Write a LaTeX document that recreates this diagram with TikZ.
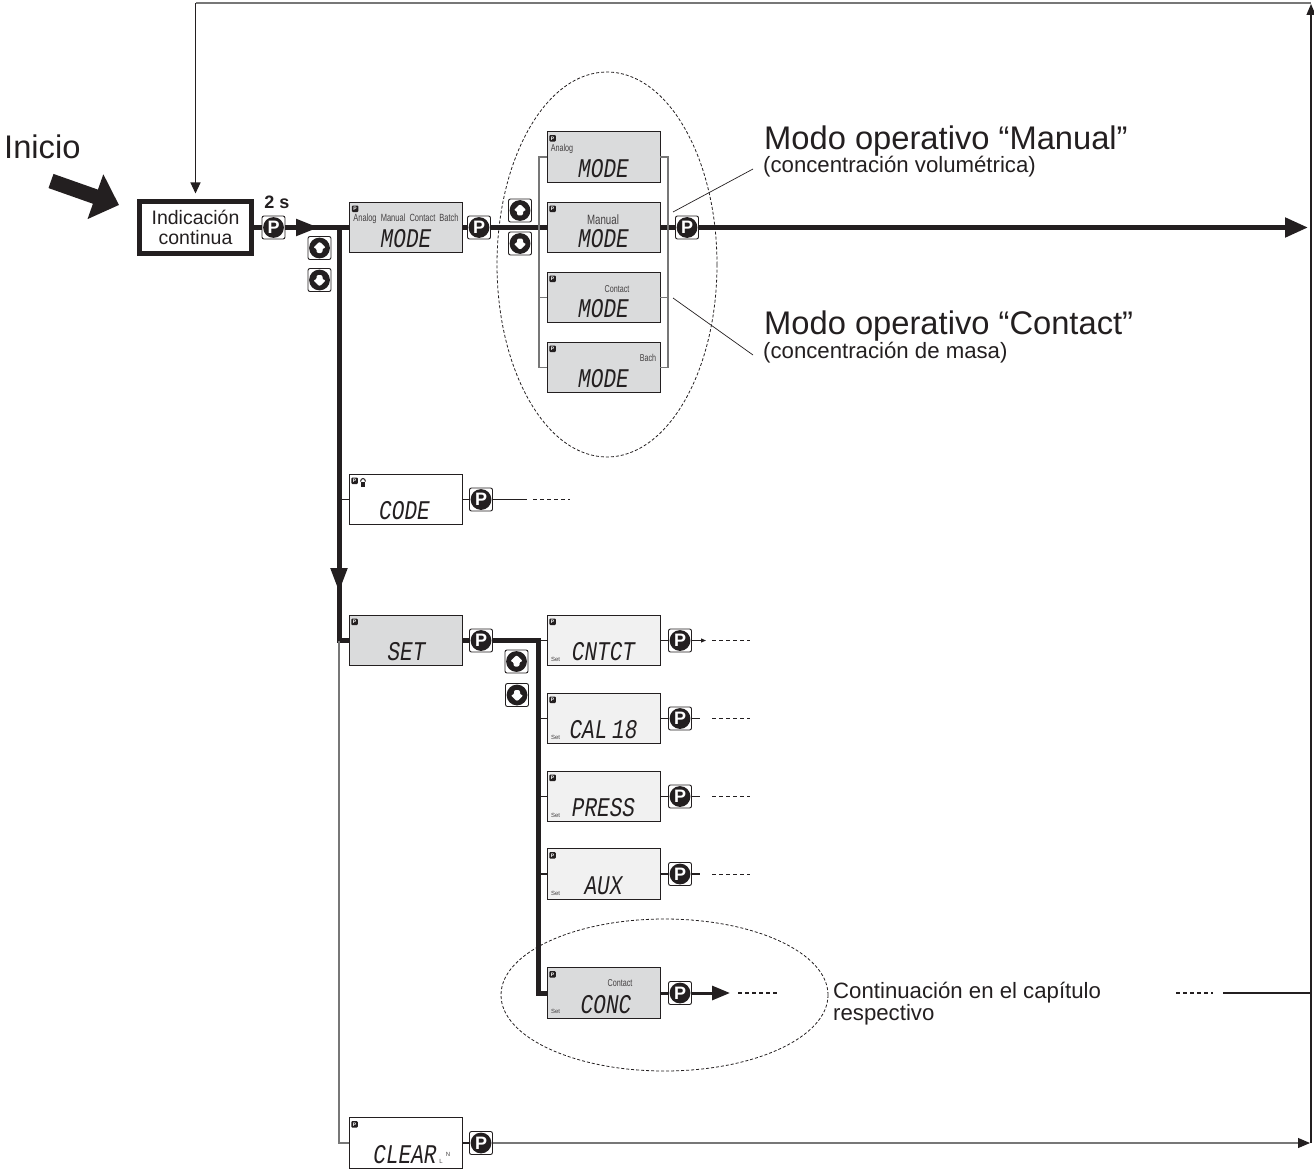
\documentclass[tikz,border=0pt]{standalone}
\usepackage{fontspec}
\usepackage{xcolor}
\setmainfont{Liberation Sans}
\newfontfamily\segfont[FakeStretch=0.78]{Liberation Mono}
\newfontfamily\tagfont[FakeStretch=0.72]{Liberation Sans}
\usetikzlibrary{shapes.geometric, arrows.meta, positioning}
\definecolor{lcdgrey}{HTML}{DADBDC}
\definecolor{lcdlight}{HTML}{F1F1F1}
\definecolor{wiregrey}{HTML}{777777}
\definecolor{inkblack}{HTML}{231F20}
\tikzset{
    lcd/.style 2 args={draw=inkblack, line width=0.9pt, minimum width=113pt, minimum height=50.5pt, inner sep=0pt,
        label={[segtext, xshift=#1pt, yshift=-11.5pt]center:#2},
        label={[pmark, anchor=center, xshift=6pt, yshift=-7pt]north west:P}},
    segtext/.style={font=\fontsize{27}{27}\segfont\itshape, text=inkblack, inner sep=0pt},
    pmark/.style={fill=inkblack, text=white, font=\fontsize{5}{5}\bfseries, rounded corners=1pt, minimum size=6.5pt, inner sep=0pt},
    tagtext/.style={font=\fontsize{10}{10}\tagfont, text=inkblack!85, inner sep=0pt},
    settext/.style={font=\fontsize{6}{6}\selectfont, text=inkblack!85, inner sep=0pt},
    pbtn/.style={draw=inkblack, line width=0.9pt, fill=white, rounded corners=2pt, minimum size=23pt, inner sep=0pt,
        text=white, font=\fontsize{18}{18}\bfseries,
        path picture={\fill[inkblack] (path picture bounding box.center) circle (10.4pt);}},
    upbtn/.style={draw=inkblack, line width=0.9pt, fill=white, rounded corners=2pt, minimum size=23pt, inner sep=0pt,
        path picture={\fill[inkblack] (path picture bounding box.center) circle (10.4pt);
            \fill[white, shift={(path picture bounding box.center)}] (0pt,6.5pt) -- (6.5pt,0pt) -- (3pt,0pt) -- (3pt,-5pt) -- (-3pt,-5pt) -- (-3pt,0pt) -- (-6.5pt,0pt) -- cycle;}},
    downbtn/.style={draw=inkblack, line width=0.9pt, fill=white, rounded corners=2pt, minimum size=23pt, inner sep=0pt,
        path picture={\fill[inkblack] (path picture bounding box.center) circle (10.4pt);
            \fill[white, shift={(path picture bounding box.center)}] (0pt,-6.5pt) -- (6.5pt,0pt) -- (3pt,0pt) -- (3pt,5pt) -- (-3pt,5pt) -- (-3pt,0pt) -- (-6.5pt,0pt) -- cycle;}},
    fatline/.style={draw=inkblack, line width=5pt},
    midline/.style={draw=inkblack, line width=3pt},
    thinline/.style={draw=inkblack, line width=1.1pt},
    greyline/.style={draw=wiregrey, line width=1.1pt},
    dashline/.style={draw=inkblack, line width=1pt, dash pattern=on 4pt off 3pt},
    ring/.style={draw=inkblack, ellipse, line width=0.8pt, dash pattern=on 3pt off 2pt, inner sep=0pt},
    bigtext/.style={font=\fontsize{32.7}{34}\selectfont, text=inkblack, inner sep=0pt, anchor=west},
    subtext/.style={font=\fontsize{22.2}{22}\selectfont, text=inkblack, inner sep=0pt, anchor=west, align=left}
}
\begin{document}
\begin{tikzpicture}[x=1pt, y=-1pt]
    \useasboundingbox (0,0) rectangle (1314,1169);

    % start
    \node (inicio) [bigtext] at (4,147) {Inicio};
    \node (indic) [draw=inkblack, line width=5pt, minimum width=112pt, minimum height=51pt, inner sep=0pt, align=center, text=inkblack, font=\fontsize{19.5}{20}\selectfont] at (195.5,227.5) {Indicación\\continua};
    \node (twosec) [font=\fontsize{18}{18}\bfseries, text=inkblack, inner sep=0pt] at (277,202) {2 s};
    \node (pStart) [pbtn] at (273.5,227.5) {P};
    \node (upA) [upbtn] at (319.5,248) {};
    \node (downA) [downbtn] at (319.5,280) {};

    % mode row
    \node (mode) [lcd={0}{MODE}, fill=lcdgrey] at (406,227.5) {};
    \node (tagAll) [tagtext, font=\fontsize{10.4}{10}\tagfont] at (406,219) {Analog\ \ Manual\ \ Contact\ \ Batch};
    \node (pMode) [pbtn] at (479,227.5) {P};
    \node (upB) [upbtn] at (520,210.5) {};
    \node (downB) [downbtn] at (520,243.5) {};
    \node (ringMode) [ring, minimum width=220pt, minimum height=385pt] at (607,264.5) {};

    \node (modeAnalog) [lcd={0}{MODE}, fill=lcdgrey] at (603.5,157) {};
    \node (tagAnalog) [tagtext] at (562,149) {Analog};
    \node (modeManual) [lcd={0}{MODE}, fill=lcdgrey] at (603.5,227.5) {};
    \node (tagManual) [tagtext, font=\fontsize{13.5}{13}\tagfont] at (603,220) {Manual};
    \node (modeContact) [lcd={0}{MODE}, fill=lcdgrey] at (603.5,297.5) {};
    \node (tagContact) [tagtext] at (617,289) {Contact};
    \node (modeBach) [lcd={0}{MODE}, fill=lcdgrey] at (603.5,367.5) {};
    \node (tagBach) [tagtext] at (648,358) {Bach};
    \node (pManual) [pbtn] at (687,227.5) {P};

    \node (txtManual) [bigtext] at (764,141) {Modo operativo “Manual”};
    \node (subManual) [subtext] at (763,167) {(concentración volumétrica)};
    \node (txtContact) [bigtext] at (764,326) {Modo operativo “Contact”};
    \node (subContact) [subtext] at (763,352.5) {(concentración de masa)};

    % code and set
    \node (code) [lcd={-1}{CODE}, fill=white] at (405.5,499.5) {};
    \node (lock) [fill=inkblack, minimum width=4.5pt, minimum height=5.5pt, inner sep=0pt] at (363,484.5) {};
    \node (pCode) [pbtn] at (481,499.5) {P};
    \node (set) [lcd={1}{SET}, fill=lcdgrey] at (405.5,640.5) {};
    \node (pSet) [pbtn] at (481,640.5) {P};
    \node (upC) [upbtn] at (516.5,661.5) {};
    \node (downC) [downbtn] at (517,695) {};

    \node (cntct) [lcd={0}{CNTCT}, fill=lcdlight] at (603.5,640.5) {};
    \node (setA) [settext] at (555.5,659) {Set};
    \node (pCntct) [pbtn] at (680,640.5) {P};
    \node (calib) [lcd={0}{CAL\hspace{-8pt} 18}, fill=lcdlight] at (603.5,718.5) {};
    \node (setB) [settext] at (555.5,737) {Set};
    \node (pCalib) [pbtn] at (680,718.5) {P};
    \node (press) [lcd={0}{PRESS}, fill=lcdlight] at (603.5,796.5) {};
    \node (setC) [settext] at (555.5,815) {Set};
    \node (pPress) [pbtn] at (680,796.5) {P};
    \node (aux) [lcd={0}{AUX}, fill=lcdlight] at (603.5,874) {};
    \node (setD) [settext] at (555.5,893) {Set};
    \node (pAux) [pbtn] at (680,874) {P};
    \node (conc) [lcd={2.5}{CONC}, fill=lcdgrey] at (603.5,993) {};
    \node (setE) [settext] at (555.5,1011) {Set};
    \node (tagConc) [tagtext] at (620,983) {Contact};
    \node (pConc) [pbtn] at (680,993) {P};
    \node (ringConc) [ring, minimum width=327pt, minimum height=152pt] at (664.5,995) {};
    \node (txtCont) [subtext] at (833,1004) {Continuación en el capítulo\\respectivo};

    \node (clear) [lcd={-0.5}{CLEAR}, fill=white] at (405.5,1143) {};
    \node (tagN) [settext] at (448,1154) {N};
    \node (tagL) [settext] at (441,1161) {L};
    \node (pClear) [pbtn] at (481,1143) {P};

    % corners and free ends
    \coordinate (topL) at (195.5,3);
    \coordinate (topR) at (1311,3);
    \coordinate (endTop) at (1311,4);
    \coordinate (botR) at (1311,1143);
    \coordinate (endBot) at (1310,1143);
    \coordinate (endMain) at (1308,227.5);
    \coordinate (jMain) at (339,227.5);
    \coordinate (tipStart) at (319,227.5);
    \coordinate (tipDown) at (339,592);
    \coordinate (jSet) at (339,640.5);
    \coordinate (jClear) at (339,1143);
    \coordinate (jCode) at (339,499.5);
    \coordinate (inL) at (539,227.5);
    \coordinate (inTop) at (539,157);
    \coordinate (inBot) at (539,367.5);
    \coordinate (inC) at (539,297.5);
    \coordinate (outR) at (668,227.5);
    \coordinate (outTop) at (668,157);
    \coordinate (outBot) at (668,367.5);
    \coordinate (outC) at (668,297.5);
    \coordinate (leadA) at (673,212);
    \coordinate (leadB) at (753,169);
    \coordinate (leadC) at (673,298);
    \coordinate (leadD) at (753,355);

    % thick path
    \draw [fatline] (indic) -- (pStart);
    \draw [fatline] (pStart) -- (jMain) -- (mode);
    \draw [fatline, -{Triangle[length=23pt, width=16pt]}] (pStart) -- (tipStart);
    \draw [fatline] (mode) -- (pMode);
    \draw [fatline] (pMode) -- (modeManual);
    \draw [fatline] (modeManual) -- (pManual);
    \draw [fatline, -{Triangle[length=23pt, width=19pt]}] (pManual) -- (endMain);
    \draw [fatline] (jMain) -- (jSet) -- (set);
    \draw [fatline, -{Triangle[length=24pt, width=16pt]}] (jMain) -- (tipDown);

    % top loop
    \draw [greyline] (topR) -- (topL);
    \draw [thinline, shorten >=6pt, -{Triangle[length=11pt, width=10pt]}] (topL) -- (indic);
    \draw [thinline, -{Triangle[length=11pt, width=9pt]}] (botR) -- (endTop);

    % mode choices
    \draw [greyline] (modeAnalog) -- (inTop) -- (inBot) -- (modeBach);
    \draw [greyline] (modeAnalog) -- (outTop) -- (outBot) -- (modeBach);
    \draw [greyline] (inC) -- (modeContact);
    \draw [greyline] (outC) -- (modeContact);
    \draw [thinline, line width=0.7pt] (leadA) -- (leadB);
    \draw [thinline, line width=0.7pt] (leadC) -- (leadD);

    % code row
    \draw [thinline] (jCode) -- (code);
    \draw [thinline] (code) -- (pCode);
    \coordinate (codeEnd) at (527,499.5);
    \coordinate (codeDashA) at (533,499.5);
    \coordinate (codeDashB) at (570,499.5);
    \draw [thinline] (pCode) -- (codeEnd);
    \draw [dashline] (codeDashA) -- (codeDashB);

    % set rows
    \coordinate (jRowA) at (538,640.5);
    \coordinate (jRowB) at (538,718.5);
    \coordinate (jRowC) at (538,796.5);
    \coordinate (jRowD) at (538,874);
    \coordinate (jRowE) at (538,993);
    \draw [fatline] (set) -- (pSet);
    \draw [fatline] (pSet) -- (jRowA) -- (jRowE) -- (conc);
    \draw [thinline] (jRowA) -- (cntct);
    \draw [thinline] (jRowB) -- (calib);
    \draw [thinline] (jRowC) -- (press);
    \draw [thinline] (jRowD) -- (aux);
    \draw [thinline] (cntct) -- (pCntct);
    \draw [thinline] (calib) -- (pCalib);
    \draw [thinline] (press) -- (pPress);
    \draw [thinline] (aux) -- (pAux);

    \coordinate (endA) at (706,640.5);
    \coordinate (endB) at (700,718.5);
    \coordinate (endC) at (700,796.5);
    \coordinate (endD) at (700,874);
    \coordinate (dashA1) at (712,640.5);
    \coordinate (dashA2) at (750,640.5);
    \coordinate (dashB1) at (712,718.5);
    \coordinate (dashB2) at (750,718.5);
    \coordinate (dashC1) at (712,796.5);
    \coordinate (dashC2) at (750,796.5);
    \coordinate (dashD1) at (712,874);
    \coordinate (dashD2) at (750,874);
    \draw [thinline, -{Triangle[length=5pt, width=4pt]}] (pCntct) -- (endA);
    \draw [thinline] (pCalib) -- (endB);
    \draw [thinline] (pPress) -- (endC);
    \draw [thinline] (pAux) -- (endD);
    \draw [dashline, line width=0.8pt] (dashA1) -- (dashA2);
    \draw [dashline, line width=0.8pt] (dashB1) -- (dashB2);
    \draw [dashline, line width=0.8pt] (dashC1) -- (dashC2);
    \draw [dashline, line width=0.8pt] (dashD1) -- (dashD2);

    % conc row
    \coordinate (endConc) at (730,993);
    \coordinate (dashE1) at (738,993);
    \coordinate (dashE2) at (777,993);
    \coordinate (dashF1) at (1176,993);
    \coordinate (dashF2) at (1213,993);
    \coordinate (lineF1) at (1223,993);
    \coordinate (lineF2) at (1311,993);
    \draw [midline] (conc) -- (pConc);
    \draw [midline, -{Triangle[length=18pt, width=14pt]}] (pConc) -- (endConc);
    \draw [dashline, line width=1.5pt] (dashE1) -- (dashE2);
    \draw [dashline, line width=1.5pt] (dashF1) -- (dashF2);
    \draw [thinline, line width=1.3pt] (lineF1) -- (lineF2);

    % clear row
    \draw [greyline] (jSet) -- (jClear) -- (clear);
    \draw [thinline] (clear) -- (pClear);
    \draw [greyline, -{Triangle[length=12pt, width=10pt, color=inkblack]}] (pClear) -- (endBot);

    % start arrow and lock bow
    \coordinate (bigTail) at (51,181);
    \draw [draw=inkblack, line width=15pt, -{Triangle[length=25pt, width=46pt]}] (bigTail) -- (119,205);
    \draw [draw=inkblack, line width=1pt] (lock.north west) .. controls +(0pt,4pt) and ([yshift=4pt]lock.north east) .. (lock.north east);
\end{tikzpicture}
\end{document}
